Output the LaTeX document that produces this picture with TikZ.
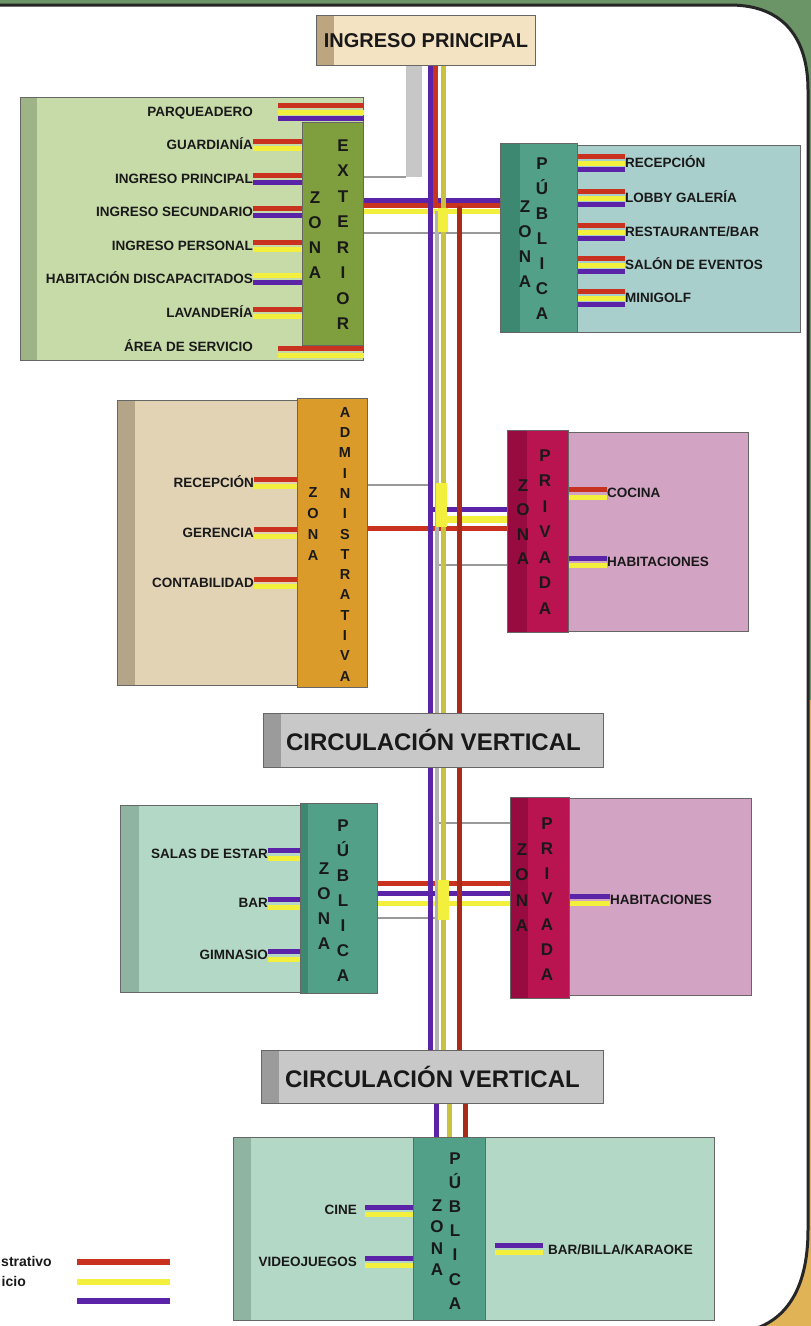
\documentclass[tikz,border=0pt]{standalone}
\usepackage{fontspec}
\setmainfont{Liberation Sans}
\definecolor{frameGreen}{HTML}{6B9567}
\definecolor{frameGold}{HTML}{E0B357}
\definecolor{admRed}{HTML}{C9321F}
\definecolor{srvYellow}{HTML}{F3EF3D}
\definecolor{srvOlive}{HTML}{C9C23F}
\definecolor{pubViolet}{HTML}{5A23A8}
\definecolor{ingTan}{HTML}{F3E3C3}
\definecolor{ingStrip}{HTML}{BDA57F}
\definecolor{extLight}{HTML}{C7DBA9}
\definecolor{extStrip}{HTML}{9EB386}
\definecolor{extBarC}{HTML}{7F9E3D}
\definecolor{pubLight}{HTML}{A9CFCC}
\definecolor{pubBarC}{HTML}{51A087}
\definecolor{pubStrip}{HTML}{3C8870}
\definecolor{admLight}{HTML}{E3D3B5}
\definecolor{admStrip}{HTML}{B4A488}
\definecolor{admBarC}{HTML}{DA9B2B}
\definecolor{prvLight}{HTML}{D2A3C3}
\definecolor{prvBarC}{HTML}{BA1450}
\definecolor{prvStrip}{HTML}{980B40}
\definecolor{mintLight}{HTML}{B4D8C6}
\definecolor{mintStrip}{HTML}{8FB4A2}
\definecolor{circGray}{HTML}{C8C8C8}
\definecolor{circStrip}{HTML}{9B9B9B}
\newcommand\vword[5][]{\foreach \c [count=\i from 0] in {#5} \node[vlet,#1] at (#2,#3+\i*#4) {\c};}
\newcommand\stub[4]{\draw[#1] ([yshift=#3]#2) -- ([yshift=#3]#2 -| #4);}
\begin{document}
\begin{tikzpicture}[x=1pt,y=-1pt,
  panel/.style n args={3}{draw=black!60,line width=0.9pt,fill=#1,inner sep=0pt,anchor=north west,text=black!90,
    path picture={\fill[#2] (path picture bounding box.north west) rectangle ([xshift=#3]path picture bounding box.south west);}},
  lbl/.style={font=\bfseries\fontsize{13.5}{14}\selectfont,text=black!90,inner sep=0pt,text height=9.5pt,text depth=0pt},
  vlet/.style={font=\bfseries\fontsize{17}{17}\selectfont,text=black!90,inner sep=0pt,text height=12pt,text depth=0pt},
  smallvlet/.style={font=\bfseries\fontsize{14.5}{14.5}\selectfont,text height=10.5pt},
  bigtxt/.style={font=\bfseries\fontsize{#1}{#1}\selectfont},
  adm/.style={admRed,line width=5pt},
  srv/.style={srvYellow,line width=5pt},
  pub/.style={pubViolet,line width=5pt},
  glink/.style={black!40,line width=1.5pt}]
\useasboundingbox (0,0) rectangle (811,1326);
\clip (0,0) rectangle (811,1326);
\fill[frameGreen] (0,0) rectangle (811,700);
\fill[frameGold] (0,700) rectangle (811,1326);
\filldraw[fill=white,draw=black!85,line width=3pt] (-10,5) -- (730,5) .. controls (785,5) and (808,40) .. (808,90)
  -- (808,1230) .. controls (808,1290) and (785,1328) .. (735,1333) -- (-10,1333) -- cycle;

\node[panel={ingTan}{ingStrip}{18pt},minimum width=219pt,minimum height=50pt,bigtxt=20] (ingreso) at (316,15) {INGRESO PRINCIPAL};
\node[panel={extLight}{extStrip}{17pt},minimum width=343pt,minimum height=263pt] (extBox) at (20,97) {};
\node[panel={extBarC}{extBarC}{0pt},minimum width=61pt,minimum height=223pt] (extBar) at (302,122) {};
\node[panel={pubLight}{pubLight}{0pt},minimum width=223pt,minimum height=187pt] (pubBoxA) at (577,145) {};
\node[panel={pubBarC}{pubStrip}{20pt},minimum width=77pt,minimum height=189pt] (pubBarA) at (500,143) {};
\node[panel={admLight}{admStrip}{18pt},minimum width=180pt,minimum height=285pt] (admBox) at (117,400) {};
\node[panel={admBarC}{admBarC}{0pt},minimum width=70pt,minimum height=289pt] (admBar) at (297,398) {};
\node[panel={prvLight}{prvLight}{0pt},minimum width=180pt,minimum height=199pt] (prvBoxA) at (568,432) {};
\node[panel={prvBarC}{prvStrip}{20pt},minimum width=61pt,minimum height=202pt] (prvBarA) at (507,430) {};
\node[panel={circGray}{circStrip}{18pt},minimum width=340pt,minimum height=54pt,bigtxt=24] (circA) at (263,713) {CIRCULACIÓN VERTICAL};
\node[panel={mintLight}{mintStrip}{19pt},minimum width=180pt,minimum height=187pt] (pubBoxB) at (120,805) {};
\node[panel={pubBarC}{pubStrip}{8pt},minimum width=77pt,minimum height=190pt] (pubBarB) at (300,803) {};
\node[panel={prvLight}{prvLight}{0pt},minimum width=182pt,minimum height=197pt] (prvBoxB) at (569,798) {};
\node[panel={prvBarC}{prvStrip}{18pt},minimum width=59pt,minimum height=201pt] (prvBarB) at (510,797) {};
\node[panel={circGray}{circStrip}{18pt},minimum width=342pt,minimum height=53pt,bigtxt=24] (circB) at (261,1050) {CIRCULACIÓN VERTICAL};
\node[panel={mintLight}{mintStrip}{18pt},minimum width=481pt,minimum height=183pt] (botBox) at (233,1137) {};
\node[panel={pubBarC}{pubBarC}{0pt},minimum width=72pt,minimum height=183pt] (botBar) at (413,1137) {};

\coordinate (xP) at (430,0);
\coordinate (xRt) at (435,0);
\coordinate (xG) at (437,0);
\coordinate (xY) at (443,0);
\coordinate (xR) at (459,0);
\coordinate (xPb) at (436,0);
\coordinate (xYb) at (449,0);
\coordinate (xRb) at (465,0);
\coordinate (gBend) at (414,177);
\coordinate (rP) at (0,200);
\coordinate (rR) at (0,205.5);
\coordinate (rY) at (0,211);
\coordinate (rG) at (0,233);
\coordinate (r2G) at (0,485);
\coordinate (r2P) at (0,509);
\coordinate (r2Y) at (0,519);
\coordinate (r2R) at (0,528);
\coordinate (r2Gb) at (0,565);
\coordinate (r3Ga) at (0,823);
\coordinate (r3R) at (0,883);
\coordinate (r3P) at (0,893);
\coordinate (r3Y) at (0,903);
\coordinate (r3Gb) at (0,918);

\draw[black!22,line width=16pt] (ingreso.south -| gBend) -- (gBend);
\draw[glink] (extBox.east |- gBend) -- ([xshift=-8pt]gBend);

\draw[pub] (extBox.east |- rP) -- (pubBarA.west |- rP);
\draw[adm] (extBox.east |- rR) -- (pubBarA.west |- rR);
\draw[srv] (extBox.east |- rY) -- (pubBarA.west |- rY);
\draw[glink] (extBox.east |- rG) -- (pubBarA.west |- rG);

\draw[glink] (admBar.east |- r2G) -- (xP |- r2G);
\draw[pub] (xP |- r2P) -- (prvBarA.west |- r2P);
\draw[srv,line width=7pt] (xG |- r2Y) -- (prvBarA.west |- r2Y);
\draw[adm] (admBar.east |- r2R) -- (prvBarA.west |- r2R);
\draw[glink] (xG |- r2Gb) -- (prvBarA.west |- r2Gb);

\draw[glink] (xG |- r3Ga) -- (prvBarB.west |- r3Ga);
\draw[adm] (pubBarB.east |- r3R) -- (prvBarB.west |- r3R);
\draw[pub] (pubBarB.east |- r3P) -- (prvBarB.west |- r3P);
\draw[srv] (pubBarB.east |- r3Y) -- (prvBarB.west |- r3Y);
\draw[glink] (pubBarB.east |- r3Gb) -- (xG |- r3Gb);

\draw[black!30,line width=3.5pt] (xG |- rY) -- (circA.north -| xG) (circA.south -| xG) -- (circB.north -| xG);
\draw[srvOlive,line width=5pt] (ingreso.south -| xY) -- (circA.north -| xY) (circA.south -| xY) -- (circB.north -| xY);
\draw[adm] (ingreso.south -| xRt) -- (xRt |- rR);
\draw[adm,admRed!85!black] (xR |- rR) -- (circA.north -| xR) (circA.south -| xR) -- (circB.north -| xR);
\draw[pub] (ingreso.south -| xP) -- (circA.north -| xP) (circA.south -| xP) -- (circB.north -| xP);
\fill[srvYellow] (438,208) rectangle (448,232);
\fill[srvYellow] (436,483) rectangle (447,527);
\fill[srvYellow] (438,880) rectangle (449,920);

\draw[pub] (circB.south -| xPb) -- (botBox.north -| xPb);
\draw[srvOlive,line width=5pt] (circB.south -| xYb) -- (botBox.north -| xYb);
\draw[adm,admRed!85!black] (circB.south -| xRb) -- (botBox.north -| xRb);

\node[lbl,anchor=east] (lParq) at (253,112) {PARQUEADERO};
\node[lbl,anchor=east] (lGuar) at (253,145) {GUARDIANÍA};
\node[lbl,anchor=east] (lIngP) at (253,179) {INGRESO PRINCIPAL};
\node[lbl,anchor=east] (lIngS) at (253,212) {INGRESO SECUNDARIO};
\node[lbl,anchor=east] (lIngR) at (253,246) {INGRESO PERSONAL};
\node[lbl,anchor=east] (lHabD) at (253,279) {HABITACIÓN DISCAPACITADOS};
\node[lbl,anchor=east] (lLav) at (253,313) {LAVANDERÍA};
\node[lbl,anchor=east] (lArea) at (253,347) {ÁREA DE SERVICIO};
\coordinate (pParq) at ([xshift=25pt]lParq.east);
\coordinate (pArea) at ([xshift=25pt]lArea.east);
\stub{adm}{pParq}{7pt}{extBox.east}
\stub{srv}{pParq}{0pt}{extBox.east}
\stub{pub}{pParq}{-6.5pt}{extBox.east}
\stub{adm}{lGuar.east}{3.5pt}{extBar.west}
\stub{srv}{lGuar.east}{-3pt}{extBar.west}
\stub{adm}{lIngP.east}{3.5pt}{extBar.west}
\stub{pub}{lIngP.east}{-3.5pt}{extBar.west}
\stub{adm}{lIngS.east}{3.5pt}{extBar.west}
\stub{pub}{lIngS.east}{-3.5pt}{extBar.west}
\stub{adm}{lIngR.east}{3.5pt}{extBar.west}
\stub{srv}{lIngR.east}{-3.5pt}{extBar.west}
\stub{srv}{lHabD.east}{3.5pt}{extBar.west}
\stub{pub}{lHabD.east}{-3.5pt}{extBar.west}
\stub{adm}{lLav.east}{3.5pt}{extBar.west}
\stub{srv}{lLav.east}{-3.5pt}{extBar.west}
\stub{adm}{pArea}{-1.5pt}{extBox.east}
\stub{srv}{pArea}{-8pt}{extBox.east}

\node[lbl,anchor=west] (lRecA) at (625,163) {RECEPCIÓN};
\node[lbl,anchor=west] (lLobby) at (625,198) {LOBBY GALERÍA};
\node[lbl,anchor=west] (lRest) at (625,232) {RESTAURANTE/BAR};
\node[lbl,anchor=west] (lSalon) at (625,265) {SALÓN DE EVENTOS};
\node[lbl,anchor=west] (lMini) at (625,298) {MINIGOLF};
\stub{adm}{lRecA.west}{6.5pt}{pubBarA.east}
\stub{srv}{lRecA.west}{0pt}{pubBarA.east}
\stub{pub}{lRecA.west}{-6.5pt}{pubBarA.east}
\stub{adm}{lLobby.west}{6.5pt}{pubBarA.east}
\stub{srv}{lLobby.west}{0pt}{pubBarA.east}
\stub{pub}{lLobby.west}{-6.5pt}{pubBarA.east}
\stub{adm}{lRest.west}{6.5pt}{pubBarA.east}
\stub{srv}{lRest.west}{0pt}{pubBarA.east}
\stub{pub}{lRest.west}{-6.5pt}{pubBarA.east}
\stub{adm}{lSalon.west}{6.5pt}{pubBarA.east}
\stub{srv}{lSalon.west}{0pt}{pubBarA.east}
\stub{pub}{lSalon.west}{-6.5pt}{pubBarA.east}
\stub{adm}{lMini.west}{6.5pt}{pubBarA.east}
\stub{srv}{lMini.west}{0pt}{pubBarA.east}
\stub{pub}{lMini.west}{-6.5pt}{pubBarA.east}

\node[lbl,anchor=east] (lRecB) at (254,483) {RECEPCIÓN};
\node[lbl,anchor=east] (lGer) at (254,533) {GERENCIA};
\node[lbl,anchor=east] (lCont) at (254,583) {CONTABILIDAD};
\stub{adm}{lRecB.east}{4pt}{admBar.west}
\stub{srv}{lRecB.east}{-3.5pt}{admBar.west}
\stub{adm}{lGer.east}{4pt}{admBar.west}
\stub{srv}{lGer.east}{-3.5pt}{admBar.west}
\stub{adm}{lCont.east}{4pt}{admBar.west}
\stub{srv}{lCont.east}{-3.5pt}{admBar.west}

\node[lbl,anchor=west] (lCoc) at (607,493) {COCINA};
\node[lbl,anchor=west] (lHabA) at (607,562) {HABITACIONES};
\stub{adm}{lCoc.west}{3.5pt}{prvBarA.east}
\stub{srv}{lCoc.west}{-4pt}{prvBarA.east}
\stub{pub}{lHabA.west}{4pt}{prvBarA.east}
\stub{srv}{lHabA.west}{-3pt}{prvBarA.east}

\node[lbl,anchor=east] (lSalas) at (268,854) {SALAS DE ESTAR};
\node[lbl,anchor=east] (lBar) at (268,903) {BAR};
\node[lbl,anchor=east] (lGim) at (268,955) {GIMNASIO};
\stub{pub}{lSalas.east}{3.5pt}{pubBarB.west}
\stub{srv}{lSalas.east}{-4pt}{pubBarB.west}
\stub{pub}{lBar.east}{3.5pt}{pubBarB.west}
\stub{srv}{lBar.east}{-4pt}{pubBarB.west}
\stub{pub}{lGim.east}{3.5pt}{pubBarB.west}
\stub{srv}{lGim.east}{-4pt}{pubBarB.west}

\node[lbl,anchor=west] (lHabB) at (610,900) {HABITACIONES};
\stub{pub}{lHabB.west}{4pt}{prvBarB.east}
\stub{srv}{lHabB.west}{-3pt}{prvBarB.east}

\node[lbl,anchor=east] (lCine) at (357,1210) {CINE};
\node[lbl,anchor=east] (lVideo) at (357,1262) {VIDEOJUEGOS};
\node[lbl,anchor=west] (lBarB) at (548,1250) {BAR/BILLA/KARAOKE};
\coordinate (pCine) at ([xshift=8pt]lCine.east);
\coordinate (pVideo) at ([xshift=8pt]lVideo.east);
\coordinate (pBarB) at ([xshift=-5pt]lBarB.west);
\coordinate (qBarB) at ([xshift=9pt]botBar.east);
\stub{pub}{pCine}{3pt}{botBar.west}
\stub{srv}{pCine}{-4pt}{botBar.west}
\stub{pub}{pVideo}{4pt}{botBar.west}
\stub{srv}{pVideo}{-3pt}{botBar.west}
\stub{pub}{pBarB}{5pt}{qBarB}
\stub{srv}{pBarB}{-2pt}{qBarB}

\vword{343}{145}{25.5}{E,X,T,E,R,I,O,R}
\vword{315}{197}{25.3}{Z,O,N,A}
\vword{525}{206}{25}{Z,O,N,A}
\vword{542}{163}{25}{P,Ú,B,L,I,C,A}
\vword[smallvlet]{313}{492}{21}{Z,O,N,A}
\vword[smallvlet]{345}{412}{20.3}{A,D,M,I,N,I,S,T,R,A,T,I,V,A}
\vword{523}{485}{24.5}{Z,O,N,A}
\vword{545}{455}{25.5}{P,R,I,V,A,D,A}
\vword{324}{868}{25}{Z,O,N,A}
\vword{343}{825}{25}{P,Ú,B,L,I,C,A}
\vword{522}{849}{25.5}{Z,O,N,A}
\vword{547}{823}{25.3}{P,R,I,V,A,D,A}
\vword{437}{1205}{21.5}{Z,O,N,A}
\vword{455}{1158}{24.2}{P,Ú,B,L,I,C,A}

\node[lbl,anchor=east,font=\bfseries\fontsize{14}{14}\selectfont] (legAdm) at (52,1262) {strativo};
\node[lbl,anchor=east,font=\bfseries\fontsize{14}{14}\selectfont] (legSrv) at (26,1282) {icio};
\coordinate (legPub) at (0,1301);
\coordinate (legX) at (77,0);
\draw[adm,line width=5.5pt] (legX |- legAdm.east) -- ++(93,0);
\draw[srv,line width=5.5pt] (legX |- legSrv.east) -- ++(93,0);
\draw[pub,line width=5.5pt] (legX |- legPub) -- ++(93,0);
\end{tikzpicture}
\end{document}
